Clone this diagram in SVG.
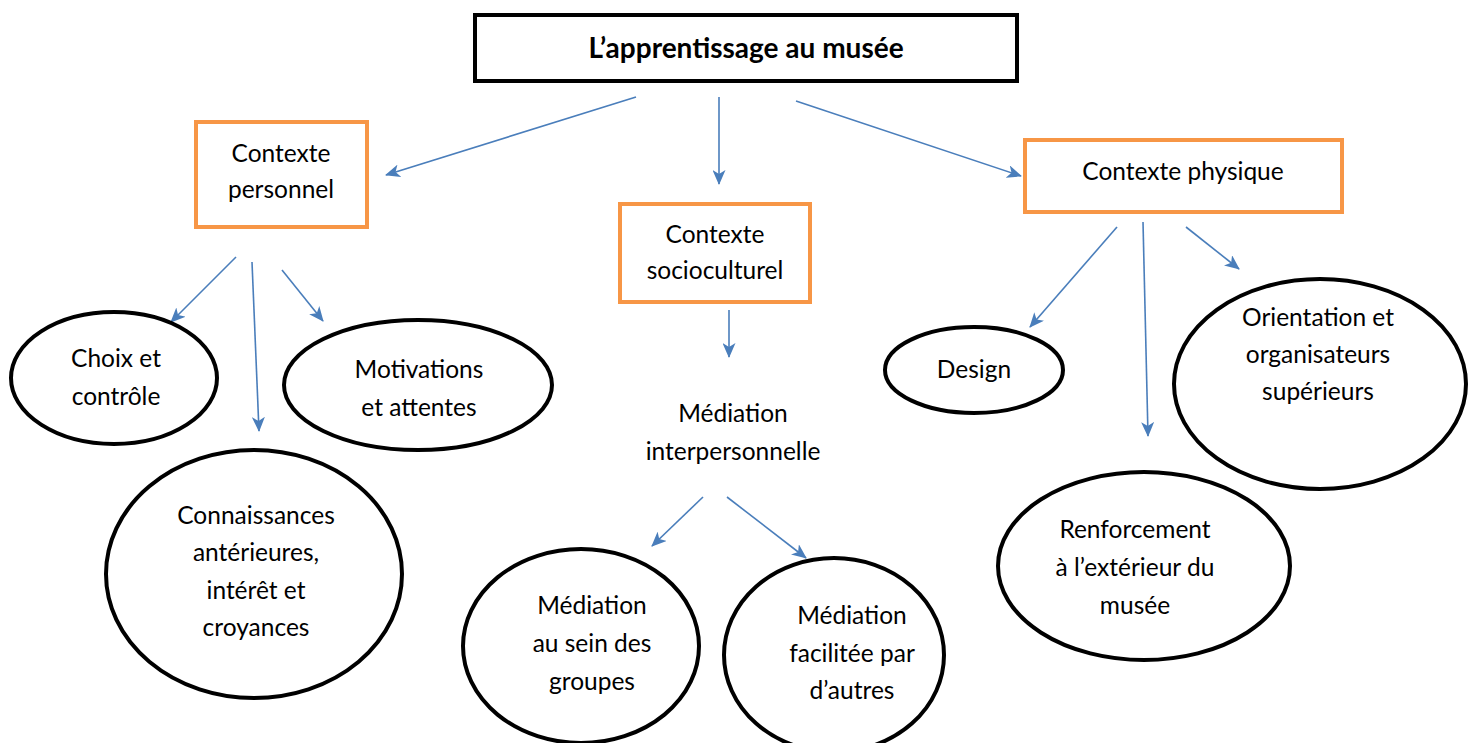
<svg xmlns="http://www.w3.org/2000/svg" width="1474" height="743" viewBox="0 0 1474 743">
  <defs>
    <marker id="arrow" markerUnits="userSpaceOnUse" markerWidth="15" markerHeight="13" viewBox="0 0 15 13" refX="14" refY="6.5" orient="auto">
      <path d="M0,0 L15,6.5 L0,13 L4,6.5 z" fill="#4A7EBB"/>
    </marker>
    <style>
      .t { font-family: Lato, "Liberation Sans", sans-serif; font-size: 24.5px; fill: #000; text-anchor: middle; }
      .title { font-family: Lato, "Liberation Sans", sans-serif; font-size: 28px; font-weight: bold; fill: #000; text-anchor: middle; }
      .main { fill: #fff; stroke: #000; stroke-width: 4; }
      .ctx { fill: #fff; stroke: #F79646; stroke-width: 4; }
      .oval { fill: #fff; stroke: #000; stroke-width: 4; }
      .link { stroke: #4A7EBB; stroke-width: 1.6; fill: none; marker-end: url(#arrow); }
    </style>
  </defs>
  <rect width="1474" height="743" fill="#fff"/>

  <!-- connectors -->
  <g id="connectors">
    <line class="link" x1="636" y1="97" x2="386" y2="175"/>
    <line class="link" x1="719" y1="97" x2="719" y2="184"/>
    <line class="link" x1="796" y1="101" x2="1021" y2="176"/>
    <line class="link" x1="236" y1="257" x2="171" y2="322"/>
    <line class="link" x1="252" y1="262" x2="259" y2="431"/>
    <line class="link" x1="282" y1="270" x2="323" y2="321"/>
    <line class="link" x1="729" y1="310" x2="729" y2="357"/>
    <line class="link" x1="703" y1="497" x2="652" y2="546"/>
    <line class="link" x1="727" y1="497" x2="806" y2="558"/>
    <line class="link" x1="1117" y1="227" x2="1030" y2="327"/>
    <line class="link" x1="1143" y1="222" x2="1148" y2="436"/>
    <line class="link" x1="1186" y1="227" x2="1239" y2="269"/>
  </g>

  <!-- root -->
  <g id="root">
    <rect class="main" x="475" y="15" width="542" height="66"/>
    <text class="title" x="746" y="58">L’apprentissage au musée</text>
  </g>

  <!-- contexts -->
  <g id="contexte-personnel">
    <rect class="ctx" x="196" y="122" width="171" height="105"/>
    <text class="t" x="281" y="162">Contexte</text>
    <text class="t" x="281" y="198">personnel</text>
  </g>
  <g id="contexte-socioculturel">
    <rect class="ctx" x="620" y="204" width="190" height="98"/>
    <text class="t" x="715" y="243">Contexte</text>
    <text class="t" x="715" y="279">socioculturel</text>
  </g>
  <g id="contexte-physique">
    <rect class="ctx" x="1025" y="140" width="317" height="72"/>
    <text class="t" x="1183" y="180">Contexte physique</text>
  </g>

  <!-- personal context factors -->
  <g id="choix">
    <ellipse class="oval" cx="114" cy="378" rx="103" ry="66"/>
    <text class="t" x="116" y="367">Choix et</text>
    <text class="t" x="116" y="405">contrôle</text>
  </g>
  <g id="motivations">
    <ellipse class="oval" cx="418" cy="385" rx="134" ry="65"/>
    <text class="t" x="419" y="378">Motivations</text>
    <text class="t" x="419" y="416">et attentes</text>
  </g>
  <g id="connaissances">
    <ellipse class="oval" cx="254" cy="574" rx="148" ry="124"/>
    <text class="t" x="256" y="524">Connaissances</text>
    <text class="t" x="256" y="561">antérieures,</text>
    <text class="t" x="256" y="599">intérêt et</text>
    <text class="t" x="256" y="636">croyances</text>
  </g>

  <!-- sociocultural context -->
  <g id="mediation-interpersonnelle">
    <text class="t" x="733" y="422">Médiation</text>
    <text class="t" x="733" y="460">interpersonnelle</text>
  </g>
  <g id="mediation-groupes">
    <ellipse class="oval" cx="581" cy="646" rx="118" ry="97"/>
    <text class="t" x="592" y="614">Médiation</text>
    <text class="t" x="592" y="652">au sein des</text>
    <text class="t" x="592" y="690">groupes</text>
  </g>
  <g id="mediation-autres">
    <ellipse class="oval" cx="834" cy="655" rx="110" ry="97"/>
    <text class="t" x="852" y="624">Médiation</text>
    <text class="t" x="852" y="662">facilitée par</text>
    <text class="t" x="852" y="699">d’autres</text>
  </g>

  <!-- physical context -->
  <g id="design">
    <ellipse class="oval" cx="974" cy="370" rx="89" ry="43"/>
    <text class="t" x="974" y="378">Design</text>
  </g>
  <g id="orientation">
    <ellipse class="oval" cx="1320" cy="384" rx="146" ry="105"/>
    <text class="t" x="1318" y="326">Orientation et</text>
    <text class="t" x="1318" y="363">organisateurs</text>
    <text class="t" x="1318" y="400">supérieurs</text>
  </g>
  <g id="renforcement">
    <ellipse class="oval" cx="1144" cy="566" rx="146" ry="94"/>
    <text class="t" x="1135" y="538">Renforcement</text>
    <text class="t" x="1135" y="576">à l’extérieur du</text>
    <text class="t" x="1135" y="614">musée</text>
  </g>
</svg>
